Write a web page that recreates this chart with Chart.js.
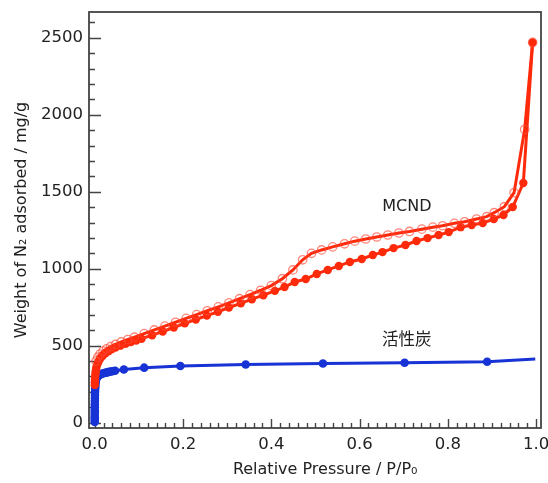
<!DOCTYPE html>
<html>
<head>
<meta charset="utf-8">
<script src="https://cdn.jsdelivr.net/npm/chart.js@4/dist/chart.umd.min.js"></script>
<style>
  body { margin: 0; background: #fff; }
  #wrap { width: 548px; height: 483px; }
</style>
</head>
<body>
<div id="wrap"><canvas id="myChart" width="548" height="483"></canvas></div>
<script>
// tick labels
const xTicks = [0, 0.2, 0.4, 0.6, 0.8, 1.0];
const yTicks = [0, 500, 1000, 1500, 2000, 2500];

// MCND adsorption branch (filled circles)
const adsX = [0.0001, 0.0003, 0.0006, 0.001, 0.0015, 0.002, 0.003, 0.004, 0.006, 0.009,
  0.013, 0.018, 0.024, 0.031, 0.038, 0.047, 0.058, 0.070, 0.082, 0.094,
  0.106, 0.130, 0.154, 0.179, 0.204, 0.229, 0.254, 0.279, 0.304, 0.331,
  0.356, 0.382, 0.408, 0.430, 0.453, 0.478, 0.503, 0.528, 0.553, 0.578,
  0.605, 0.630, 0.652, 0.677, 0.704, 0.729, 0.754, 0.779, 0.802, 0.829,
  0.854, 0.879, 0.904, 0.926, 0.947, 0.971, 0.992];
const adsY = [245, 262, 280, 298, 315, 330, 348, 362, 380, 398,
  418, 435, 450, 463, 476, 488, 500, 512, 523, 534,
  545, 568, 592, 618, 645, 670, 695, 720, 748, 775,
  802, 828, 856, 881, 914, 933, 966, 992, 1018, 1044,
  1063, 1089, 1108, 1134, 1154, 1180, 1199, 1219, 1238, 1270,
  1284, 1297, 1323, 1349, 1401, 1557, 2470];

// MCND desorption branch (open circles)
const desX = [0.992, 0.974, 0.950, 0.928, 0.905, 0.888, 0.865, 0.838, 0.815, 0.788,
  0.766, 0.741, 0.713, 0.689, 0.664, 0.639, 0.614, 0.589, 0.566, 0.539,
  0.514, 0.491, 0.471, 0.449, 0.425, 0.400, 0.376, 0.352, 0.328, 0.304,
  0.280, 0.255, 0.231, 0.207, 0.183, 0.159, 0.135, 0.112, 0.090, 0.075,
  0.060, 0.047, 0.036, 0.027, 0.019, 0.012, 0.007, 0.003];
const desY = [2470, 1905, 1494, 1403, 1364, 1338, 1323, 1305, 1295, 1279,
  1270, 1257, 1242, 1232, 1219, 1206, 1193, 1179, 1162, 1142,
  1122, 1100, 1058, 992, 935, 890, 860, 832, 805, 778,
  752, 727, 702, 677, 652, 627, 602, 578, 555, 540,
  524, 508, 494, 480, 465, 445, 425, 400];

// activated carbon
const acX = [0, 0.00002, 0.00004, 0.00006, 0.00008, 0.0001, 0.00015, 0.0002, 0.0003, 0.0004,
  0.0005, 0.0007, 0.001, 0.0013, 0.0016, 0.002, 0.0025, 0.003, 0.004, 0.005,
  0.007, 0.009, 0.012, 0.015, 0.018, 0.022, 0.026, 0.030, 0.035, 0.040,
  0.046, 0.066, 0.112, 0.194, 0.342, 0.517, 0.702, 0.889, 0.998];
const acY = [5, 20, 35, 50, 65, 80, 100, 120, 140, 160,
  180, 200, 220, 237, 252, 265, 275, 283, 290, 296,
  302, 307, 312, 316, 319, 322, 325, 328, 331, 334,
  337, 345, 357, 368, 378, 384, 389, 395, 414];

const RED = '#ff2a0a';
const BLUE = '#1733d6';
const FONT = "'DejaVu Sans', sans-serif";

function pairs(xs, ys) {
  return xs.map((x, i) => ({x: x, y: ys[i]}));
}

// inward ticks + frame, like the original plot
const framePlugin = {
  id: 'frame',
  beforeDatasetsDraw(chart) {
    const ctx = chart.ctx;
    const a = chart.chartArea;
    const xs = chart.scales.x, ys = chart.scales.y;
    ctx.save();
    ctx.strokeStyle = '#444';
    ctx.lineWidth = 1.4;
    ctx.beginPath();
    for (let i = 0; i <= 50; i++) {
      const px = Math.round(xs.getPixelForValue(i * 0.02)) + 0.5;
      const len = i % 10 === 0 ? 9 : 5;
      ctx.moveTo(px, a.bottom);
      ctx.lineTo(px, a.bottom - len);
    }
    for (let i = 0; i <= 26; i++) {
      const py = Math.round(ys.getPixelForValue(i * 100)) + 0.5;
      const len = i % 5 === 0 ? 12 : 6;
      ctx.moveTo(a.left, py);
      ctx.lineTo(a.left + len, py);
    }
    ctx.stroke();
    ctx.restore();
  },
  afterDatasetsDraw(chart, args, opts) {
    const ctx = chart.ctx;
    const a = chart.chartArea;
    ctx.save();
    ctx.strokeStyle = '#444';
    ctx.lineWidth = 1.8;
    ctx.strokeRect(a.left, a.top, a.right - a.left, a.bottom - a.top);
    // series labels
    ctx.fillStyle = '#222';
    ctx.textAlign = 'center';
    ctx.textBaseline = 'middle';
    for (const n of opts.notes) {
      ctx.font = n.font;
      ctx.fillText(n.text, chart.scales.x.getPixelForValue(n.x), chart.scales.y.getPixelForValue(n.y));
    }
    ctx.restore();
  }
};

const ctx = document.getElementById('myChart').getContext('2d');
const myChart = new Chart(ctx, {
  type: 'line',
  data: {
    datasets: [{
      label: 'MCND desorption',
      data: pairs(desX, desY),
      borderColor: RED,
      borderWidth: 3,
      pointRadius: 4.2,
      pointBorderWidth: 1.3,
      pointBorderColor: 'rgba(255,70,50,0.65)',
      pointBackgroundColor: 'rgba(255,255,255,0)',
      tension: 0
    }, {
      label: 'MCND adsorption',
      data: pairs(adsX, adsY),
      borderColor: RED,
      borderWidth: 3,
      pointRadius: 4.2,
      pointBorderWidth: 0,
      pointBackgroundColor: RED,
      tension: 0
    }, {
      label: '活性炭',
      data: pairs(acX, acY),
      borderColor: BLUE,
      borderWidth: 3,
      pointRadius: acX.map((v, i) => i === acX.length - 1 ? 0 : 4.3),
      pointBorderWidth: 0,
      pointBackgroundColor: BLUE,
      tension: 0
    }]
  },
  options: {
    responsive: false,
    animation: false,
    layout: { padding: { left: 0, top: 12, right: 7, bottom: 0 } },
    plugins: {
      legend: { display: false },
      tooltip: { enabled: false },
      frame: {
        notes: [
          { text: 'MCND', x: 0.707, y: 1405, font: "16px " + FONT },
          { text: '活性炭', x: 0.707, y: 543, font: "16.5px 'Noto Sans CJK JP', sans-serif" }
        ]
      }
    },
    scales: {
      x: {
        type: 'linear',
        min: -0.013,
        max: 1.011,
        grid: { display: false, drawTicks: false },
        border: { display: false },
        afterBuildTicks: (s) => { s.ticks = xTicks.map(v => ({value: v})); },
        afterFit: (s) => { s.height = 55; s.paddingLeft = 0; s.paddingRight = 0; },
        ticks: {
          padding: 7,
          color: '#222',
          font: { family: FONT, size: 16.5 },
          callback: (v) => v.toFixed(1)
        },
        title: {
          display: true,
          text: '    Relative Pressure / P/P₀',
          color: '#222',
          font: { family: FONT, size: 16 },
          padding: { top: 0, bottom: 4 }
        }
      },
      y: {
        type: 'linear',
        min: -35,
        max: 2668,
        grid: { display: false, drawTicks: false },
        border: { display: false },
        afterBuildTicks: (s) => { s.ticks = yTicks.map(v => ({value: v})); },
        afterFit: (s) => { s.width = 89; s.paddingTop = 0; s.paddingBottom = 0; },
        ticks: {
          padding: 6,
          color: '#222',
          font: { family: FONT, size: 16.5 },
          callback: (v) => String(v)
        },
        title: {
          display: true,
          text: 'Weight of N₂ adsorbed / mg/g',
          color: '#222',
          font: { family: FONT, size: 16 },
          padding: { top: 12, bottom: 0 }
        }
      }
    }
  },
  plugins: [framePlugin]
});
</script>
</body>
</html>
